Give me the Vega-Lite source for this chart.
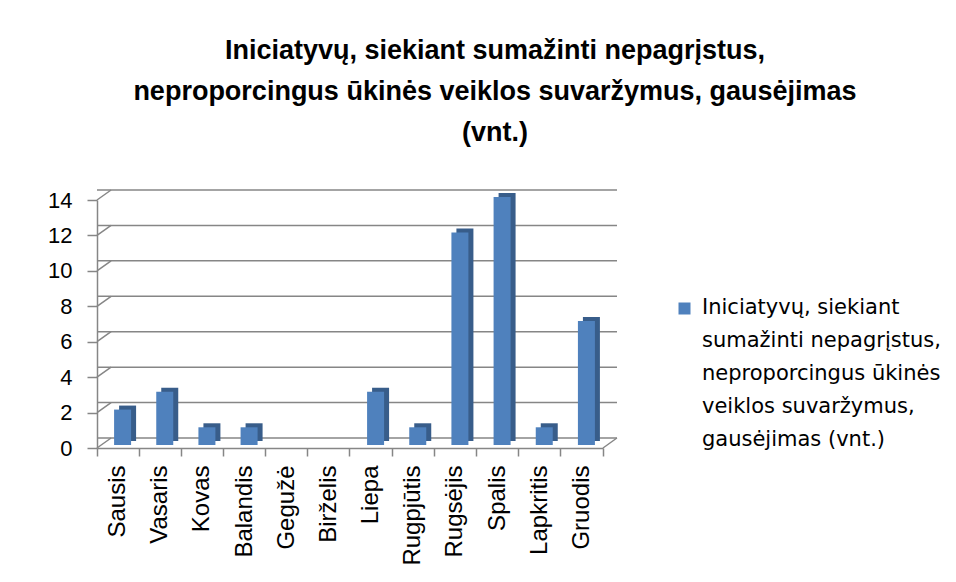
{
  "$schema": "https://vega.github.io/schema/vega-lite/v6.json",
  "autosize": "none",
  "width": 506,
  "height": 248,
  "padding": {"left": 97, "top": 200, "right": 353, "bottom": 134},
  "background": "white",
  "config": {
    "view": {"stroke": null},
    "font": "Liberation Sans",
    "axisX": {
      "labelAngle": -90,
      "labelFontSize": 24,
      "labelColor": "black",
      "labelFont": "Liberation Sans",
      "labelPadding": 9,
      "bandPosition": 1,
      "tickExtra": true,
      "tickSize": 8,
      "tickColor": "#868686",
      "tickWidth": 1.5,
      "domainColor": "#868686",
      "domainWidth": 1.5,
      "grid": false,
      "title": null
    },
    "axisY": {
      "labelOverlap": false,
      "labelFontSize": 22,
      "labelColor": "black",
      "labelFont": "Liberation Sans",
      "labelPadding": 15,
      "tickSize": 10,
      "tickColor": "#868686",
      "tickWidth": 1.5,
      "domainColor": "#868686",
      "domainWidth": 1.5,
      "grid": false,
      "title": null
    }
  },
  "title": {
    "text": ["Iniciatyvų, siekiant sumažinti nepagrįstus,", "neproporcingus ūkinės veiklos suvaržymus, gausėjimas", "(vnt.)"],
    "fontSize": 27,
    "fontWeight": "bold",
    "font": "Liberation Sans",
    "color": "black",
    "lineHeight": 41,
    "anchor": "middle",
    "frame": "group",
    "dx": 145,
    "offset": 42
  },
  "datasets": {
    "months": [
      {"m": "Sausis", "v": 2},
      {"m": "Vasaris", "v": 3},
      {"m": "Kovas", "v": 1},
      {"m": "Balandis", "v": 1},
      {"m": "Gegužė", "v": 0},
      {"m": "Birželis", "v": 0},
      {"m": "Liepa", "v": 3},
      {"m": "Rugpjūtis", "v": 1},
      {"m": "Rugsėjis", "v": 12},
      {"m": "Spalis", "v": 14},
      {"m": "Lapkritis", "v": 1},
      {"m": "Gruodis", "v": 7}
    ],
    "grid": [{"g": 0}, {"g": 2}, {"g": 4}, {"g": 6}, {"g": 8}, {"g": 10}, {"g": 12}, {"g": 14}]
  },
  "layer": [
    {
      "data": {"name": "grid"},
      "mark": {"type": "rule", "color": "#868686", "strokeWidth": 1.5, "xOffset": 14, "yOffset": -10},
      "encoding": {
        "y": {"field": "g", "type": "quantitative", "title": null, "scale": {"domain": [0, 14], "nice": false}, "axis": {"values": [0, 2, 4, 6, 8, 10, 12, 14]}}
      }
    },
    {
      "data": {"name": "grid"},
      "mark": {"type": "rule", "color": "#868686", "strokeWidth": 1.5, "x2Offset": -7, "y2Offset": -10},
      "encoding": {
        "x": {"datum": "Sausis", "bandPosition": 0, "axis": {"labelFontSize": 24}},
        "x2": {"datum": "Sausis"},
        "y": {"field": "g", "type": "quantitative", "title": null, "axis": {"values": [0, 2, 4, 6, 8, 10, 12, 14]}},
        "y2": {"field": "g"}
      }
    },
    {
      "data": {"values": [{"g": 0}]},
      "mark": {"type": "rule", "color": "#868686", "strokeWidth": 1.5, "x2Offset": 35, "y2Offset": -10},
      "encoding": {
        "x": {"datum": "Gruodis", "bandPosition": 1},
        "x2": {"datum": "Gruodis"},
        "y": {"field": "g", "type": "quantitative", "title": null, "axis": {"values": [0, 2, 4, 6, 8, 10, 12, 14]}},
        "y2": {"field": "g"}
      }
    },
    {
      "data": {"name": "months"},
      "mark": {"type": "bar", "width": 17, "color": "#385D8A", "xOffset": 9.5, "yOffset": -7, "y2Offset": -7},
      "encoding": {
        "x": {"field": "m", "type": "nominal", "sort": null, "title": null},
        "y": {"field": "v", "type": "quantitative", "title": null, "axis": {"values": [0, 2, 4, 6, 8, 10, 12, 14]}}
      }
    },
    {
      "data": {"name": "months"},
      "mark": {"type": "bar", "width": 17, "xOffset": 4.5, "yOffset": -3, "y2Offset": -3},
      "encoding": {
        "x": {
          "field": "m", "type": "nominal", "sort": null, "title": null,
          "scale": {"domain": ["Sausis", "Vasaris", "Kovas", "Balandis", "Gegužė", "Birželis", "Liepa", "Rugpjūtis", "Rugsėjis", "Spalis", "Lapkritis", "Gruodis"]},
          "axis": {"labelFontSize": 24}
        },
        "y": {"field": "v", "type": "quantitative", "title": null, "axis": {"values": [0, 2, 4, 6, 8, 10, 12, 14]}},
        "color": {
          "datum": "Iniciatyvų, siekiant sumažinti nepagrįstus, neproporcingus ūkinės veiklos suvaržymus, gausėjimas (vnt.)",
          "scale": {"range": ["#4F81BD"]},
          "legend": {
            "title": null,
            "orient": "none",
            "legendX": 577,
            "legendY": 98,
            "symbolType": "square",
            "symbolSize": 144,
            "symbolStrokeWidth": 0,
            "labelFontSize": 21,
            "labelFont": "DejaVu Sans",
            "labelColor": "black",
            "labelLimit": 400,
            "labelOffset": 7,
            "labelBaseline": "top",
            "labelExpr": "['Iniciatyvų, siekiant', 'sumažinti nepagrįstus,', 'neproporcingus ūkinės', 'veiklos suvaržymus,', 'gausėjimas (vnt.)']",
            "encode": {
              "labels": {"update": {"lineHeight": {"value": 33}, "dy": {"value": -12}}}
            }
          }
        }
      }
    }
  ]
}
